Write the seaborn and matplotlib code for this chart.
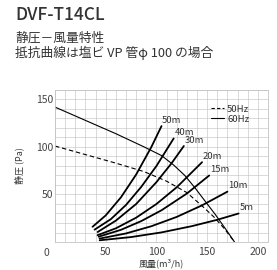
import numpy as np
import matplotlib
matplotlib.use("Agg")
import matplotlib.pyplot as plt
from matplotlib.lines import Line2D
import seaborn as sns

# ---- data ----
q_60hz = [0, 30, 60, 88, 105, 117, 128, 138, 148, 158, 168, 177]
p_60hz = [142, 128, 114, 100, 91, 81, 70, 57, 43, 29, 14, 0]
q_50hz = [0, 30, 60, 88, 110, 130, 145, 157, 167, 177]
p_50hz = [101, 92, 83, 74, 64, 52, 38, 26, 14, 0]

duct_labels = ["50m", "40m", "30m", "20m", "15m", "10m", "5m"]
duct_q = [
    [37, 50, 65, 80, 95, 105],
    [39, 55, 70, 85, 100, 117],
    [42, 60, 80, 100, 115, 127],
    [42, 60, 80, 100, 120, 145],
    [43, 65, 85, 105, 130, 152],
    [44, 70, 95, 120, 145, 170],
    [44, 75, 105, 135, 160, 181],
]
duct_p = [
    [16, 28, 47, 71, 100, 122],
    [13, 24, 39, 58, 80, 109],
    [10.5, 22.5, 40, 63, 83, 101],
    [7.2, 14.4, 25.6, 40, 57.6, 84],
    [5.6, 12.8, 22, 33.4, 51, 70],
    [3.6, 9, 16.6, 26.4, 38.6, 53],
    [1.8, 5.2, 10.1, 16.7, 23.4, 30],
]

x_labels = [50, 100, 150, 200]
y_labels = [50, 100, 150]

sns.set_theme(style="whitegrid")
plt.rcParams["font.family"] = ["Noto Sans CJK JP", "DejaVu Sans"]

text_col = "#333333"
grid_col = "#c4c4c4"

fig = plt.figure(figsize=(2.77, 2.70), dpi=100)
ax = fig.add_axes([0.1986, 0.1037, 0.7689, 0.563])

# fan curves
sns.lineplot(x=q_60hz, y=p_60hz, ax=ax, color="black", lw=0.8,
             sort=False, estimator=None)
sns.lineplot(x=q_50hz, y=p_50hz, ax=ax, color="black", lw=0.8,
             linestyle=(0, (4, 2.5)), sort=False, estimator=None)

# duct resistance curves
for lab, qs, ps in zip(duct_labels, duct_q, duct_p):
    sns.lineplot(x=qs, y=ps, ax=ax, color="black", lw=1.3,
                 sort=False, estimator=None)
    ax.annotate(lab, (qs[-1], ps[-1]), xytext=(0.5, 4.2),
                textcoords="offset points", ha="left", va="center",
                fontsize=6.8, color=text_col)

ax.set_xlim(0, 210)
ax.set_ylim(0, 160)
ax.set_xticks(np.arange(0, 211, 10))
ax.set_yticks(np.arange(0, 161, 10))
ax.set_xticklabels([str(v) if v in x_labels else "" for v in range(0, 211, 10)])
ax.set_yticklabels([str(v) if v in y_labels else "" for v in range(0, 161, 10)])
ax.tick_params(length=0, labelsize=7.5, labelcolor="#444444")
ax.tick_params(axis="x", pad=3.5)
ax.tick_params(axis="y", pad=1.5)
ax.grid(True, color=grid_col, lw=0.45)
ax.set_facecolor("white")
for s in ax.spines.values():
    s.set_color(grid_col)
    s.set_linewidth(0.6)

ax.text(-0.025, -0.04, "0", transform=ax.transAxes, ha="right", va="top",
        fontsize=7.5, color="#444444")
ax.set_xlabel("風量(m³/h)", fontsize=6.5, color=text_col, labelpad=1)
ax.set_ylabel("静圧 (Pa)", fontsize=6.5, color=text_col, labelpad=8)

handles = [Line2D([], [], color="black", lw=0.8, linestyle=(0, (3, 2))),
           Line2D([], [], color="black", lw=0.8)]
ax.legend(handles, ["50Hz", "60Hz"], loc="upper left",
          bbox_to_anchor=(0.71, 0.935), frameon=False, fontsize=6.8,
          handlelength=1.4, handletextpad=0.3, labelspacing=0.1,
          borderpad=0, labelcolor=text_col)

fig.text(15 / 277, 1 - 15 / 270, "DVF-T14CL", fontsize=12.5, color=text_col,
         fontweight="medium", ha="left", va="center")
fig.text(15 / 277, 1 - 38 / 270, "静圧－風量特性", fontsize=9.2, color=text_col,
         ha="left", va="center")
fig.text(15 / 277, 1 - 53 / 270, "抵抗曲線は塩ビ VP 管φ 100 の場合", fontsize=9.2,
         color=text_col, ha="left", va="center")

fig.savefig("out.png", dpi=100, facecolor="white")
